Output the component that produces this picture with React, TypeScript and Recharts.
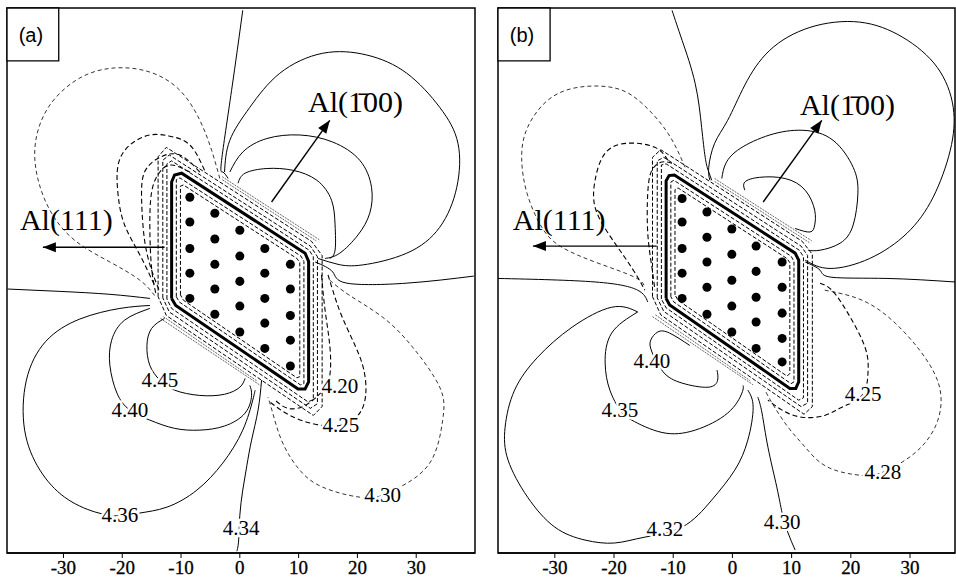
import React from 'react';
import { ComposedChart, Line, Scatter, XAxis, YAxis, ReferenceArea } from 'recharts';

type Kind = 'thick' | 'shell' | 'solid' | 'dash' | 'fine' | 'hair' | 'arrow';
type Curve = { kind: Kind; pts: number[][] };
type Tag = { x: number; y: number; t: string };

const X_TICKS = [-30, -20, -10, 0, 10, 20, 30];
const Y_DOMAIN: [number, number] = [-46.4, 46.3];
const SERIF = "'Liberation Serif', 'Times New Roman', serif";
const SANS = "'Liberation Sans', Arial, sans-serif";

// ---------- panel (a) ----------
const aXDomain: [number, number] = [-39.6, 40];

const aRhombus = [[-11.6, -3.1], [-11.6, 16.7], [-11.1, 17.9], [-9.9, 18.2], [11.1, 4.6], [11.7, 3.2], [11.7, -17.3], [11.1, -18.5], [9.9, -18.5], [-10.9, -4.3], [-11.6, -3.1]];
const aInner1 = [[-10.8, -2.8], [-10.8, 17.1], [-10.2, 17.4], [10.4, 4.1], [10.9, 3.2], [10.9, -17.6], [10.3, -17.8], [-10.3, -3.7], [-10.8, -2.8]];
const aInner2 = [[-10.1, -2.5], [-10.1, 16.0], [-9.6, 16.2], [9.7, 3.7], [10.2, 3.0], [10.2, -16.4], [9.7, -16.6], [-9.6, -3.4], [-10.1, -2.5]];
const aOuter1 = [[-12.4, -3.2], [-12.4, 19.8], [-11.6, 20.3], [11.8, 5.1], [12.5, 4.0], [12.5, -20.3], [11.6, -20.7], [-11.6, -4.8], [-12.4, -3.2]];
const aOuter2 = [[-13.1, -3.0], [-13.1, 20.4], [-12.0, 21.3], [12.0, 5.8], [13.2, 4.0], [13.2, -21.0], [12.0, -21.8], [-12.0, -5.4], [-13.1, -3.0]];
const aOuter3 = [[-13.9, -2.8], [-13.9, 21.0], [-12.5, 22.6], [12.2, 6.6], [14.0, 4.2], [14.0, -21.5], [12.5, -23.0], [-12.5, -6.0], [-13.9, -2.8]];
const aHairTop1 = [[-3.0, 17.1], [5.0, 11.9], [13.0, 6.7]];
const aHairTop2 = [[-3.0, 17.6], [5.0, 12.4], [13.5, 6.9]];
const aHairBot1 = [[-13.0, -6.2], [-5.0, -11.7], [3.0, -17.2]];
const aHairBot2 = [[-13.5, -6.5], [-5.0, -12.2], [3.5, -17.9]];

const aD1 = [[-3.4, 17.3], [-4.8, 22.1], [-6.8, 27.2], [-10.2, 32.3], [-15.3, 35.4], [-21.3, 36.1], [-27.2, 34.4], [-32.3, 29.8], [-34.7, 23.8], [-34.5, 17.9], [-32.3, 11.9], [-28.1, 6.8], [-22.1, 3.1], [-17.0, 0], [-14.5, -2.6]];
const aD2 = [[-6.0, 18.7], [-8.5, 23.0], [-11.9, 24.5], [-15.3, 24.7], [-18.7, 23.0], [-20.7, 19.6], [-20.7, 14.5], [-19.6, 9.4], [-17.0, 4.3], [-14.5, -0.9]];
const aD3 = [[-6.8, 18.4], [-10.2, 21.3], [-13.6, 20.9], [-16.2, 18.4], [-16.7, 13.6], [-16.2, 6.8], [-15.0, 1.7], [-13.6, -2.0]];
const aD4 = [[-8.5, 18.4], [-11.6, 19.6], [-13.6, 18.4], [-15.0, 15.0], [-15.3, 8.5], [-15.0, 2.0], [-14.3, -2.2]];
const a420 = [[13.9, 0.9], [14.5, -5.1], [15.3, -11.1], [15.3, -16.2], [13.9, -19.0], [11.1, -21.3], [8.2, -21.8], [6.0, -20.4]];
const a425 = [[15.0, 0.9], [15.8, -1.7], [17.3, -6.0], [19.6, -11.1], [21.1, -15.3], [21.4, -19.6], [20.1, -23.0], [17.0, -24.7], [12.8, -24.5], [8.5, -23.0], [5.1, -20.7]];
const a430 = [[15.3, 0], [18.7, -2.6], [24.3, -6.3], [29.4, -11.4], [34.0, -18.2], [34.5, -23.8], [32.3, -31.1], [27.2, -35.2], [24.3, -36.6], [20.4, -36.9], [14.1, -35.2], [10.2, -32.3], [7.3, -27.7], [5.6, -22.6], [4.8, -19.9]];

const aS1 = [[0.5, 45.9], [-1.4, 32.3], [-3.1, 20.4], [-2.9, 18.4], [-2.0, 17.3]];
const aS2 = [[-2.6, 18.4], [-1.7, 23.8], [1.7, 29.4], [6.8, 35.2], [14.1, 38.6], [21.6, 38.3], [28.4, 35.2], [34.0, 29.4], [37.1, 23.3], [36.9, 15.8], [34.0, 9.0], [28.4, 4.6], [20.9, 2.6], [16.7, 2.7], [13.3, 3.7]];
const aS3 = [[-1.7, 18.4], [0.5, 21.8], [4.6, 24.1], [10.2, 24.7], [15.8, 23.5], [20.4, 20.4], [22.4, 15.8], [22.1, 11.4], [20.1, 7.7], [17.0, 4.6], [14.5, 3.7]];
const aS4 = [[-0.3, 16.5], [0.9, 18.2], [4.6, 19.0], [9.0, 18.7], [13.1, 17.0], [15.6, 13.6], [16.2, 9.4], [16.2, 5.1], [15.3, 3.7]];
const aRight = [[12.8, 3.1], [15.8, 1.4], [18.2, -0.5], [28.4, -0.5], [39.8, 0.7]];
const aLeft = [[-39.5, -1.5], [-30.6, -1.9], [-22.1, -2.4], [-15.3, -3.1]];
const a436 = [[-15.3, -4.3], [-20.4, -4.8], [-27.2, -6.6], [-33.0, -10.4], [-36.3, -17.0], [-36.6, -25.5], [-34.0, -32.3], [-29.8, -36.9], [-24.7, -39.4], [-20.4, -40.1], [-17.0, -39.6], [-12.4, -38.6], [-7.3, -35.7], [-2.9, -31.1], [0.5, -25.5], [2.2, -20.4], [2.6, -18.7]];
const a440 = [[-15.3, -4.8], [-19.6, -6.8], [-21.8, -10.2], [-22.1, -14.5], [-20.9, -19.2], [-18.7, -22.1], [-15.3, -23.8], [-11.1, -25.2], [-6.8, -25.5], [-2.6, -24.8], [0.9, -22.6], [2.0, -19.6], [1.7, -17.9]];
const a445 = [[-12.8, -6.5], [-15.0, -8.2], [-15.8, -11.1], [-15.3, -14.5], [-13.6, -17.0], [-11.1, -18.7], [-6.8, -19.6], [-2.6, -19.4], [0, -18.2], [0.9, -16.7]];
const a434 = [[3.7, -17.0], [3.1, -22.1], [2.0, -27.2], [1.2, -31.5], [0.5, -35.7], [0, -40.0], [-0.2, -44.2], [-0.5, -46.1]];

const aDotCols = [-8.5, -4.25, 0, 4.25, 8.6];
const aDotRows = [
  [14.1, 9.9, 5.4, 1.2, -3.1],
  [11.4, 7.0, 2.7, -1.5, -5.8],
  [8.5, 4.1, -0.2, -4.4, -8.8],
  [5.4, 1.2, -3.1, -7.3, -11.6],
  [2.7, -1.5, -6.0, -10.2, -14.6],
];
const aLevels: Tag[] = [
  { x: -13.6, y: -17.0, t: '4.45' },
  { x: -18.7, y: -22.1, t: '4.40' },
  { x: -20.4, y: -40.0, t: '4.36' },
  { x: 0.2, y: -42.2, t: '4.34' },
  { x: 17.0, y: -18.0, t: '4.20' },
  { x: 17.2, y: -24.7, t: '4.25' },
  { x: 24.3, y: -36.6, t: '4.30' },
];
const aTitles: Tag[] = [
  { x: -37.4, y: 8.5, t: 'Al(111)' },
  { x: 11.6, y: 28.6, t: 'Al(1\u0304' + '00)' },
];
const aArrows = [
  [[-12.8, 5.6], [-33.5, 5.6]],
  [[5.4, 13.3], [15.3, 27.2]],
];

// ---------- panel (b) ----------
const bXDomain: [number, number] = [-39.6, 37.6];

const bRhombus = [[-11.2, -3.1], [-11.2, 16.9], [-10.7, 17.8], [-9.8, 17.9], [10.6, 4.6], [11.2, 3.4], [11.2, -17.3], [10.7, -18.4], [9.7, -18.4], [-10.6, -4.2], [-11.2, -3.1]];
const bInner1 = [[-10.4, -2.8], [-10.4, 16.7], [-9.9, 17.0], [9.9, 4.1], [10.4, 3.2], [10.4, -17.3], [9.9, -17.6], [-9.9, -3.7], [-10.4, -2.8]];
const bInner2 = [[-9.7, -2.5], [-9.7, 15.4], [-9.2, 15.7], [9.2, 3.7], [9.7, 3.0], [9.7, -15.9], [9.2, -16.3], [-9.2, -3.4], [-9.7, -2.5]];
const bOuter1 = [[-12.0, -3.2], [-12.0, 19.6], [-11.2, 19.8], [11.3, 5.1], [12.0, 4.0], [12.0, -20.0], [11.2, -20.4], [-11.2, -4.7], [-12.0, -3.2]];
const bOuter2 = [[-12.7, -3.0], [-12.7, 20.3], [-11.6, 20.9], [11.6, 5.8], [12.7, 4.2], [12.7, -20.9], [11.6, -21.5], [-11.6, -5.3], [-12.7, -3.0]];
const bOuter3 = [[-13.5, -2.8], [-13.5, 20.9], [-12.1, 22.2], [11.8, 6.6], [13.5, 4.4], [13.5, -21.5], [12.1, -22.8], [-12.1, -5.9], [-13.5, -2.8]];
const bHairTop1 = [[-3.0, 16.8], [5.0, 11.6], [13.0, 6.4]];
const bHairTop2 = [[-3.0, 17.3], [5.0, 12.1], [13.4, 6.7]];
const bHairBot1 = [[-13.0, -5.9], [-5.0, -11.5], [3.0, -17.1]];
const bHairBot2 = [[-13.5, -6.2], [-5.0, -12.0], [3.5, -17.8]];

const bD1 = [[-8.0, 19.2], [-10.9, 25.0], [-15.3, 30.1], [-19.9, 32.7], [-26.1, 32.8], [-31.2, 30.6], [-34.6, 26.0], [-35.6, 20.9], [-34.7, 14.8], [-32.2, 9.0], [-28.8, 5.6], [-22.7, 2.9], [-16.5, 0.5], [-14.8, -1.2]];
const bD2 = [[-10.9, 20.4], [-13.1, 22.6], [-17.7, 23.3], [-21.5, 21.6], [-23.2, 17.0], [-23.2, 12.4], [-21.0, 8.0], [-18.2, 3.9], [-16.0, 0.5], [-14.8, -1.7]];
const bD3 = [[-10.2, 19.9], [-11.9, 20.1], [-13.6, 18.7], [-14.3, 14.8], [-14.3, 8.0], [-13.6, 2.2], [-13.1, -1.7]];
const b425 = [[14.8, -0.5], [16.8, -1.7], [19.5, -5.6], [22.4, -11.4], [22.9, -15.8], [21.9, -19.6], [18.5, -21.6], [15.6, -23.0], [11.7, -23.3], [8.4, -22.1], [6.0, -20.4]];
const b428 = [[15.6, -1.7], [21.9, -3.4], [27.5, -7.3], [32.5, -13.1], [35.1, -18.7], [34.7, -23.8], [32.5, -27.7], [29.2, -30.6], [25.3, -32.7], [21.9, -33.2], [16.1, -31.8], [12.3, -28.4], [9.4, -25.0], [6.7, -20.9], [5.5, -18.7]];

const bS1 = [[-10.2, 45.9], [-8.5, 40.8], [-6.3, 33.5], [-5.2, 26.0], [-4.6, 20.9], [-4.1, 18.7], [-3.5, 17.0]];
const bS2 = [[-3.8, 17.0], [-4.0, 19.2], [-3.0, 23.3], [-0.8, 27.2], [2.1, 33.2], [6.3, 39.1], [13.1, 43.0], [21.5, 43.9], [28.8, 41.3], [34.6, 36.2], [37.3, 29.4], [36.8, 22.1], [33.9, 14.1], [29.5, 8.0], [23.2, 3.7], [16.5, 2.0], [12.3, 3.4]];
const bS3 = [[-1.8, 17.3], [-1.1, 19.9], [1.3, 22.4], [6.3, 24.7], [11.9, 25.5], [17.0, 23.8], [20.4, 19.2], [21.2, 14.8], [20.4, 9.4], [18.2, 6.3], [14.8, 5.1], [12.8, 5.1]];
const bS4 = [[2.1, 15.3], [2.1, 16.7], [4.6, 17.5], [8.9, 17.3], [12.3, 15.3], [13.9, 11.9], [13.9, 9.4], [13.1, 8.2], [10.6, 8.8]];
const bRight = [[12.3, 3.1], [14.8, 1.7], [16.8, 0.5], [26.1, 0.3], [37.6, -0.3]];
const bLeft = [[-39.6, 0.3], [-23.2, -0.3], [-16.0, -1.7], [-14.3, -3.7]];
const b432 = [[2.6, -18.7], [3.5, -21.6], [2.6, -27.2], [0.4, -32.3], [-3.5, -37.4], [-8.5, -42.0], [-14.8, -43.7], [-19.9, -44.7], [-24.9, -44.2], [-30.0, -42.0], [-34.6, -36.9], [-37.9, -30.6], [-38.4, -25.0], [-36.8, -18.7], [-32.9, -13.1], [-27.1, -8.0], [-20.4, -4.6], [-16.0, -5.4]];
const b435 = [[-16.0, -5.4], [-20.4, -9.0], [-21.5, -14.1], [-20.7, -18.7], [-19.0, -22.1], [-17.0, -23.8], [-11.9, -25.9], [-6.3, -25.5], [-0.8, -22.6], [1.6, -19.2], [1.8, -17.9]];
const b440 = [[-7.2, -11.1], [-10.6, -9.0], [-12.6, -8.8], [-13.8, -10.2], [-13.6, -12.2], [-11.7, -15.6], [-8.5, -17.5], [-4.1, -18.2], [-2.5, -17.0], [-2.6, -15.3]];
const b430 = [[4.3, -19.9], [5.0, -22.6], [6.0, -28.4], [7.5, -35.2], [8.4, -39.6], [9.4, -43.0], [10.6, -45.9]];

const bDotCols = [-8.5, -4.3, -0.1, 4.0, 8.4];
const bDotRows = [
  [13.9, 9.9, 5.4, 1.2, -3.1],
  [11.6, 7.3, 3.1, -1.2, -5.8],
  [8.7, 4.4, 0, -4.4, -8.8],
  [5.8, 1.5, -2.9, -7.1, -11.6],
  [3.1, -1.2, -5.6, -9.9, -13.9],
];
const bLevels: Tag[] = [
  { x: -13.6, y: -13.8, t: '4.40' },
  { x: -19.0, y: -22.1, t: '4.35' },
  { x: -11.4, y: -42.3, t: '4.32' },
  { x: 8.4, y: -41.2, t: '4.30' },
  { x: 22.1, y: -19.4, t: '4.25' },
  { x: 25.4, y: -32.7, t: '4.28' },
];
const bTitles: Tag[] = [
  { x: -37.1, y: 8.5, t: 'Al(111)' },
  { x: 11.4, y: 28.1, t: 'Al(1\u0304' + '00)' },
];
const bArrows = [
  [[-12.8, 5.8], [-33.7, 5.8]],
  [[5.2, 13.3], [15.1, 27.2]],
];

const aCurves: Curve[] = [
  { kind: 'fine', pts: aD1 }, { kind: 'dash', pts: aD2 }, { kind: 'dash', pts: aD3 }, { kind: 'dash', pts: aD4 },
  { kind: 'dash', pts: a420 }, { kind: 'dash', pts: a425 }, { kind: 'fine', pts: a430 },
  { kind: 'solid', pts: aS1 }, { kind: 'solid', pts: aS2 }, { kind: 'solid', pts: aS3 }, { kind: 'solid', pts: aS4 },
  { kind: 'solid', pts: aRight }, { kind: 'solid', pts: aLeft }, { kind: 'solid', pts: a436 },
  { kind: 'solid', pts: a440 }, { kind: 'solid', pts: a445 }, { kind: 'solid', pts: a434 },
  { kind: 'hair', pts: aHairTop1 }, { kind: 'hair', pts: aHairTop2 }, { kind: 'hair', pts: aHairBot1 }, { kind: 'hair', pts: aHairBot2 },
  { kind: 'shell', pts: aOuter3 }, { kind: 'shell', pts: aOuter2 }, { kind: 'shell', pts: aOuter1 },
  { kind: 'shell', pts: aInner1 }, { kind: 'shell', pts: aInner2 }, { kind: 'thick', pts: aRhombus },
  { kind: 'arrow', pts: aArrows[0] }, { kind: 'arrow', pts: aArrows[1] },
];
const bCurves: Curve[] = [
  { kind: 'fine', pts: bD1 }, { kind: 'dash', pts: bD2 }, { kind: 'dash', pts: bD3 },
  { kind: 'dash', pts: b425 }, { kind: 'fine', pts: b428 },
  { kind: 'solid', pts: bS1 }, { kind: 'solid', pts: bS2 }, { kind: 'solid', pts: bS3 }, { kind: 'solid', pts: bS4 },
  { kind: 'solid', pts: bRight }, { kind: 'solid', pts: bLeft }, { kind: 'solid', pts: b432 },
  { kind: 'solid', pts: b435 }, { kind: 'solid', pts: b440 }, { kind: 'solid', pts: b430 },
  { kind: 'hair', pts: bHairTop1 }, { kind: 'hair', pts: bHairTop2 }, { kind: 'hair', pts: bHairBot1 }, { kind: 'hair', pts: bHairBot2 },
  { kind: 'shell', pts: bOuter3 }, { kind: 'shell', pts: bOuter2 }, { kind: 'shell', pts: bOuter1 },
  { kind: 'shell', pts: bInner1 }, { kind: 'shell', pts: bInner2 }, { kind: 'thick', pts: bRhombus },
  { kind: 'arrow', pts: bArrows[0] }, { kind: 'arrow', pts: bArrows[1] },
];

const STYLE: Record<Kind, { type: any; strokeWidth: number; strokeDasharray?: string }> = {
  thick: { type: 'linear', strokeWidth: 3 },
  shell: { type: 'linear', strokeWidth: 1, strokeDasharray: '4 2' },
  solid: { type: 'natural', strokeWidth: 1 },
  dash: { type: 'natural', strokeWidth: 1.1, strokeDasharray: '5 3' },
  fine: { type: 'natural', strokeWidth: 0.8, strokeDasharray: '4 3' },
  hair: { type: 'natural', strokeWidth: 0.6, strokeDasharray: '2 1' },
  arrow: { type: 'linear', strokeWidth: 1.4 },
};

const toPts = (arr: number[][]) => arr.map(([x, y]) => ({ x, y }));

const LevelText = (p: any) => (
  <text x={p.cx} y={p.cy} textAnchor="middle" dominantBaseline="central" fontSize={21} fontFamily={SERIF}
    fill="#000" stroke="#fff" strokeWidth={5} paintOrder="stroke">{p.payload.t}</text>
);
const TitleText = (p: any) => (
  <text x={p.cx} y={p.cy} textAnchor="start" fontSize={30} fontFamily={SERIF} fill="#000">{p.payload.t}</text>
);
const Head = (p: any) => (
  <polygon points="0,0 -13,-5 -13,5" fill="#000"
    transform={`translate(${p.cx},${p.cy}) rotate(${p.payload.ang})`} />
);
const TickText = (p: any) => (
  <text x={p.x} y={p.y + 14} textAnchor="middle" fontSize={19} fontFamily={SERIF} fill="#000"
    stroke="#000" strokeWidth={0.3}>
    {p.payload.value}
  </text>
);

interface PanelProps {
  left: number;
  width: number;
  margin: { top: number; right: number; bottom: number; left: number };
  xDomain: [number, number];
  tag: string;
  curves: Curve[];
  dotCols: number[];
  dotRows: number[][];
  levels: Tag[];
  titles: Tag[];
  arrows: number[][][];
}

function Panel({ left, width, margin, xDomain, tag, curves, dotCols, dotRows, levels, titles, arrows }: PanelProps) {
  const dots = dotCols.flatMap((x, i) => dotRows[i].map(y => ({ x, y })));
  const heads = arrows.map(([a, b]) => ({
    x: b[0],
    y: b[1],
    ang: (Math.atan2(-(b[1] - a[1]), b[0] - a[0]) * 180) / Math.PI,
  }));
  const tagLabel = ({ viewBox }: any) => (
    <text x={viewBox.x + viewBox.width / 2 - 2} y={viewBox.y + viewBox.height / 2 + 1} textAnchor="middle"
      dominantBaseline="central" fontSize={20} fontFamily={SANS} fill="#000">{tag}</text>
  );
  return (
    <div style={{ position: 'absolute', left, top: 0 }}>
      <ComposedChart width={width} height={581} margin={margin}>
        <XAxis type="number" dataKey="x" domain={xDomain} allowDataOverflow ticks={X_TICKS} interval={0}
          height={28} tickSize={5} tickLine={{ stroke: '#000' }} axisLine={{ stroke: '#000', strokeWidth: 1.5 }}
          tick={TickText} />
        <YAxis type="number" dataKey="y" domain={Y_DOMAIN} allowDataOverflow hide />
        <ReferenceArea x1={xDomain[0]} x2={xDomain[1]} y1={Y_DOMAIN[0]} y2={Y_DOMAIN[1]}
          fill="none" stroke="#000" strokeWidth={1.5} ifOverflow="visible" />
        {curves.map((c, i) => (
          <Line key={i} data={toPts(c.pts)} dataKey="y" type={STYLE[c.kind].type} stroke="#000"
            strokeWidth={STYLE[c.kind].strokeWidth} strokeDasharray={STYLE[c.kind].strokeDasharray}
            dot={false} activeDot={false} isAnimationActive={false} />
        ))}
        <Scatter data={heads} shape={Head} isAnimationActive={false} />
        <Scatter data={dots} fill="#000" shape="circle" isAnimationActive={false} />
        <Scatter data={levels} shape={LevelText} isAnimationActive={false} />
        <Scatter data={titles} shape={TitleText} isAnimationActive={false} />
        <ReferenceArea x1={xDomain[0]} x2={-30.8} y1={37.3} y2={Y_DOMAIN[1]} fill="#fff" fillOpacity={1}
          stroke="#000" strokeWidth={1.3} ifOverflow="visible" label={tagLabel} />
      </ComposedChart>
    </div>
  );
}

export default function App() {
  return (
    <div style={{ position: 'absolute', left: 0, top: 0, width: 956, height: 581, background: '#fff' }}>
      <Panel left={0} width={480} margin={{ top: 8, right: 5, bottom: 0, left: 7 }} xDomain={aXDomain} tag="(a)"
        curves={aCurves} dotCols={aDotCols} dotRows={aDotRows} levels={aLevels} titles={aTitles} arrows={aArrows} />
      <Panel left={490} width={466} margin={{ top: 8, right: 1, bottom: 0, left: 8 }} xDomain={bXDomain} tag="(b)"
        curves={bCurves} dotCols={bDotCols} dotRows={bDotRows} levels={bLevels} titles={bTitles} arrows={bArrows} />
    </div>
  );
}
